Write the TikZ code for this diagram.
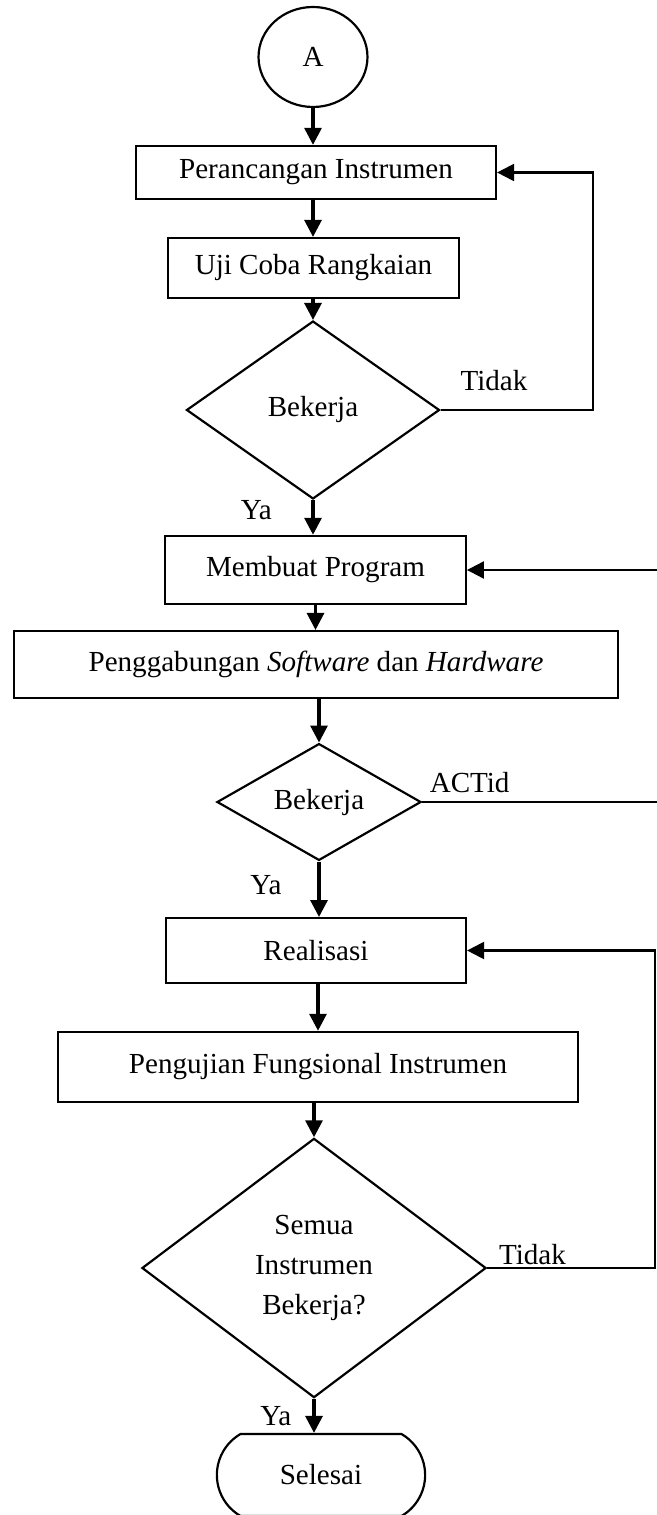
\documentclass[tikz,border=0pt]{standalone}
\usepackage{fontspec}
\setmainfont{Liberation Serif}
\usepackage{tikz}
\usetikzlibrary{arrows.meta}
\usetikzlibrary{shapes.geometric,shapes.misc}
\usetikzlibrary{positioning}

\begin{document}
\begin{tikzpicture}[x=0.145mm, y=-0.145mm, font=\fontsize{12pt}{16.5pt}\selectfont,
    proses/.style={draw, line width=0.9pt, inner sep=0pt},
    keputusan/.style={draw, diamond, line width=0.9pt, inner sep=0pt, align=center},
    panah/.style={-{Triangle[length=7pt,width=7pt]}, line width=1.3pt},
    balik/.style={-{Triangle[length=7pt,width=7pt]}, line width=0.9pt}]

    \useasboundingbox (0,0) rectangle (657,1515);

    \node[draw, ellipse, line width=0.9pt, minimum width=15.8mm, minimum height=14.5mm, inner sep=0pt] (mulai) at (313,57) {A};

    \node[proses, minimum width=52.2mm, minimum height=7.7mm] (rancang) at (316,172.5) {Perancangan Instrumen};
    \node[proses, minimum width=42.2mm, minimum height=8.7mm] (ujicoba) at (313.5,268) {Uji Coba Rangkaian};
    \node[keputusan, minimum width=36.7mm, minimum height=25.8mm] (cek1) at (313,410) {Bekerja};

    \node[proses, minimum width=43.6mm, minimum height=9.9mm] (program) at (315.5,570) {Membuat Program};
    \node[proses, minimum width=87.6mm, minimum height=9.7mm] (gabung) at (316,664.5) {Penggabungan \textit{Software} dan \textit{Hardware}};
    \node[keputusan, minimum width=29.6mm, minimum height=16.1mm] (cek2) at (319,802) {Bekerja};

    \node[proses, minimum width=43.5mm, minimum height=9.4mm] (realisasi) at (316,950.5) {Realisasi};
    \node[proses, minimum width=75.4mm, minimum height=10.2mm] (uji) at (318,1067) {Pengujian Fungsional Instrumen};
    \node[keputusan, minimum width=49.9mm, minimum height=37.6mm] (cek3) at (314,1268) {Semua\\Instrumen\\Bekerja?};

    \node[draw, rounded rectangle, rounded rectangle arc length=120, line width=0.9pt, minimum width=30.2mm, minimum height=11.9mm, inner sep=0pt] (selesai) at (321,1475) {Selesai};

    \coordinate (balik1) at (593,0);
    \coordinate (balik2) at (672,0);
    \coordinate (balik3) at (655,0);

    \draw[panah] (mulai.south) -- (mulai.south |- rancang.north);
    \draw[panah] (rancang.south -| mulai) -- (ujicoba.north -| mulai);
    \draw[panah] (ujicoba.south -| cek1) -- (cek1.north);
    \draw[panah] (cek1.south) -- node[pos=0.3, left=13pt] (ya1) {Ya} (cek1.south |- program.north);
    \draw[balik] (cek1.east) -- node[pos=0.35, above=4pt] (tidak1) {Tidak} (cek1.east -| balik1) |- (rancang.east);

    \draw[panah] (program.south) -- (gabung.north -| program.south);
    \draw[panah] (gabung.south -| cek2) -- (cek2.north);
    \draw[panah] (cek2.south) -- node[pos=0.42, left=11.5pt] (ya2) {Ya} (cek2.south |- realisasi.north);
    \draw[balik] (cek2.east) -- node[pos=0.19, above] (actid) {ACTid} (cek2.east -| balik2) |- (program.east);

    \draw[panah] (realisasi.south -| uji) -- (uji.north);
    \draw[panah] (uji.south -| cek3) -- (cek3.north);
    \draw[panah] (cek3.south) -- node[pos=0.5, left=5.4pt] (ya3) {Ya} (cek3.south |- selesai.north);
    \draw[balik] (cek3.east) -- node[pos=0.27, above, inner sep=1pt] (tidak2) {Tidak} (cek3.east -| balik3) |- (realisasi.east);

\end{tikzpicture}
\end{document}
